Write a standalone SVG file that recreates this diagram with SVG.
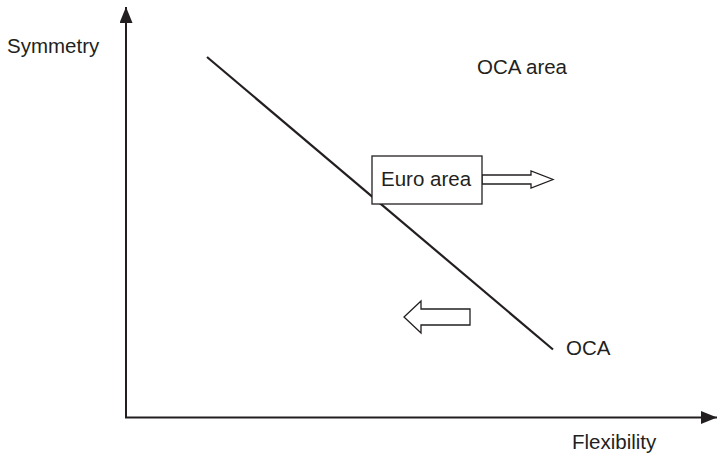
<svg xmlns="http://www.w3.org/2000/svg" width="717" height="453" viewBox="0 0 717 453">
<style>
text{font-family:"Liberation Sans",Arial,sans-serif;font-size:20.5px;fill:#231f20}
.ln{stroke:#231f20;fill:none}
.hollow{fill:#fff;stroke:#231f20;stroke-width:1.3}
</style>
<defs>
<marker id="ah" viewBox="0 0 16 13" refX="16" refY="6.5" markerWidth="16" markerHeight="13" markerUnits="userSpaceOnUse" orient="auto">
<path d="M0,0 L16,6.5 L0,13 Z" fill="#231f20"/>
</marker>
</defs>
<rect width="717" height="453" fill="#fff"/>
<g id="connectors">
<line class="ln" x1="126" y1="418" x2="126" y2="7" stroke-width="2" marker-end="url(#ah)"/>
<line class="ln" x1="125" y1="417.5" x2="717" y2="417.5" stroke-width="2" marker-end="url(#ah)"/>
<line class="ln" x1="207" y1="57" x2="553" y2="349.5" stroke-width="2.2"/>
<path id="arrow-right" class="hollow" d="M482,175 L531,175 L531,171 L553,179.5 L531,188 L531,184 L482,184 Z"/>
<path id="arrow-left" class="hollow" d="M470,309 L421,309 L421,301 L404,317 L421,333 L421,325 L470,325 Z"/>
</g>
<g id="euro-area">
<rect x="372" y="156" width="110" height="48" fill="#fff" stroke="#231f20" stroke-width="1.3"/>
<text x="381" y="186">Euro area</text>
</g>
<g id="labels">
<text x="7" y="53">Symmetry</text>
<text x="477" y="74">OCA area</text>
<text x="566" y="355">OCA</text>
<text x="572" y="449" font-size="21">Flexibility</text>
</g>
</svg>
